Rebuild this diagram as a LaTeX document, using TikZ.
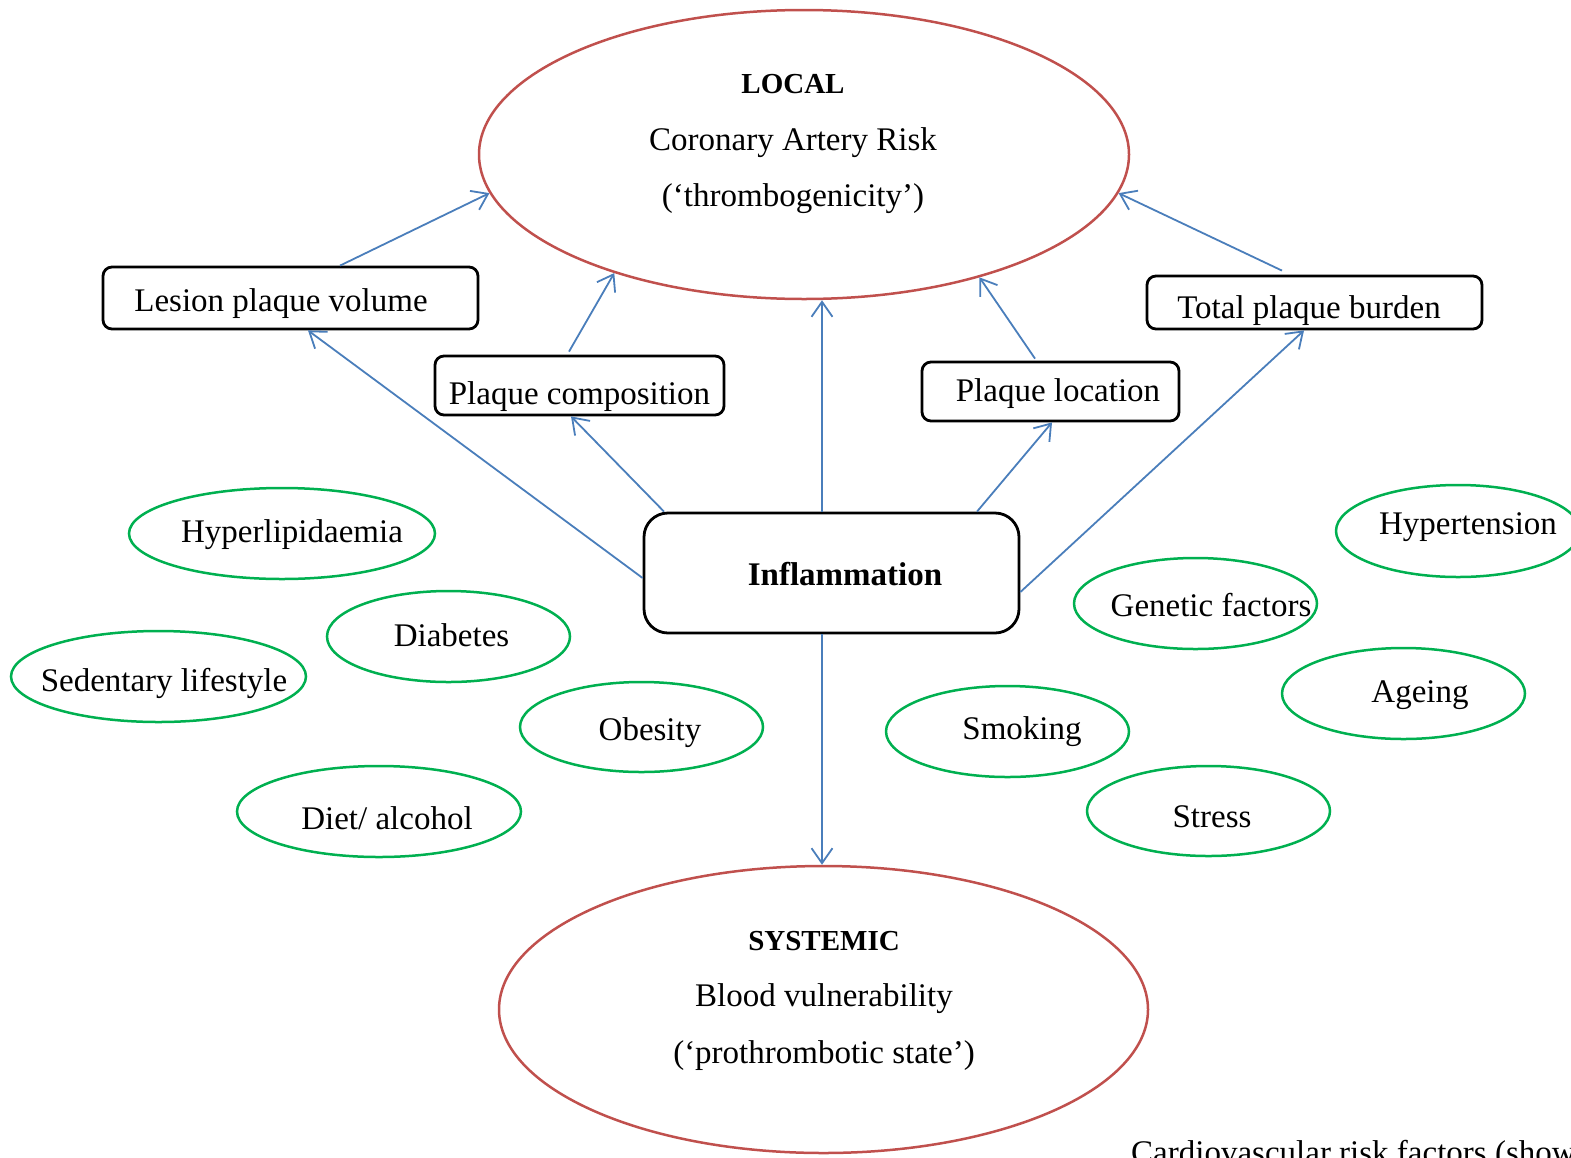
\documentclass[tikz,border=0pt]{standalone}
\usepackage{fontspec}
\setmainfont{Liberation Serif}
\usetikzlibrary{shapes.geometric,arrows.meta,calc}
\definecolor{cred}{HTML}{C0504D}
\definecolor{cblue}{HTML}{4A7EBB}
\definecolor{cgreen}{HTML}{00B050}
\begin{document}
\begin{tikzpicture}[x=1pt,y=-1pt,
  every node/.style={font=\fontsize{33}{56.5}\selectfont, inner sep=0pt},
  bigell/.style={ellipse, draw=cred, line width=2.5pt},
  riskell/.style={ellipse, draw=cgreen, line width=2.5pt, inner xsep=-45pt, text height=32pt, text depth=7pt},
  factor/.style={rectangle, draw=black, line width=2.8pt, rounded corners=9pt, text height=32pt, text depth=7pt},
  arr/.style={draw=cblue, line width=1.8pt, -{Straight Barb[length=15pt,width=21pt,line width=1.8pt]}}
]
\useasboundingbox (0,0) rectangle (1571,1157);
\clip (0,0) rectangle (1571,1157);

% big ellipses
\node[bigell, minimum width=650pt, minimum height=289pt] (local) at (804,154.5) {};
\node[align=center] (localtxt) at (793,144) {{\fontsize{29}{56.5}\selectfont\bfseries LOCAL}\\Coronary Artery Risk\\(‘thrombogenicity’)};
\node[bigell, minimum width=649pt, minimum height=287pt] (systemic) at (823.5,1009.5) {};
\node[align=center] (systxt) at (824,1000.5) {{\fontsize{29}{56.5}\selectfont\bfseries SYSTEMIC}\\Blood vulnerability\\(‘prothrombotic state’)};

% boxes
\node[factor, minimum width=375pt, minimum height=62pt, text height=34pt] (lesion) at (290.5,298) {Lesion plaque volume\hspace*{19pt}};
\node[factor, minimum width=289pt, minimum height=59pt, text height=45pt] (comp) at (579.5,385.5) {Plaque composition};
\node[factor, minimum width=257pt, minimum height=59pt, text depth=12pt] (loc) at (1050.5,391.5) {\hspace*{15pt}Plaque location};
\node[factor, minimum width=335pt, minimum height=53pt, text height=39pt] (total) at (1314.5,302.5) {Total plaque burden\hspace*{11pt}};
\node[factor, minimum width=375pt, minimum height=120pt, rounded corners=24pt] (inflam) at (831.5,573) {\hspace*{27pt}\textbf{Inflammation}};

% risk factors
\node[riskell, minimum width=306pt, minimum height=91pt, text depth=14pt] (hyperlip) at (282,533.5) {\hspace*{20pt}Hyperlipidaemia};
\node[riskell, minimum width=243pt, minimum height=91pt, text depth=12pt] (diab) at (448.5,636.5) {\hspace*{6pt}Diabetes};
\node[riskell, minimum width=295pt, minimum height=91pt, text height=37pt] (sed) at (158.5,676.5) {\hspace*{11pt}Sedentary lifestyle};
\node[riskell, minimum width=243pt, minimum height=90pt, text height=34pt] (obes) at (641.5,727) {\hspace*{17pt}Obesity};
\node[riskell, minimum width=284pt, minimum height=91pt, text height=43pt] (diet) at (379,811.5) {\hspace*{16pt}Diet/ alcohol};
\node[riskell, minimum width=243pt, minimum height=91pt, text depth=16pt] (smok) at (1007.5,731.5) {\hspace*{29pt}Smoking};
\node[riskell, minimum width=243pt, minimum height=91pt] (genet) at (1195.5,603.5) {\hspace*{31pt}Genetic factors};
\node[riskell, minimum width=244pt, minimum height=92pt, text depth=25pt] (hypert) at (1458,531) {\hspace*{20pt}Hypertension};
\node[riskell, minimum width=243pt, minimum height=91pt, text depth=14pt] (ageing) at (1403.5,693.5) {\hspace*{33pt}Ageing};
\node[riskell, minimum width=243pt, minimum height=90pt, text height=40pt] (stress) at (1208.5,811) {\hspace*{7pt}Stress};

% caption (cut off by the frame, as in the reference)
\node[anchor=base west] (caption) at (1131,1163) {Cardiovascular risk factors (shown};

% arrows
\draw[arr] ([xshift=49.5pt]lesion.north) -- (local.187);
\draw[arr] ([xshift=-10.5pt,yshift=3pt]comp.north) -- (local.212);
\draw[arr] ([xshift=-9.5pt]inflam.north) -- ([xshift=18pt]local.south);
\draw[arr] ([xshift=-15.5pt,yshift=2pt]loc.north) -- (local.325);
\draw[arr] ([xshift=-32.5pt,yshift=4pt]total.north) -- (local.353);
\draw[arr] ([yshift=-5pt]inflam.west) -- ([xshift=17.5pt]lesion.south);
\draw[arr] ([xshift=-167.5pt]inflam.north) -- ([xshift=-8.5pt]comp.south);
\draw[arr] ([xshift=145.5pt]inflam.north) -- ([xshift=1.5pt]loc.south);
\draw[arr] ([yshift=-19pt]inflam.east) -- ([xshift=-10.5pt]total.south);
\draw[arr] ([xshift=-9.5pt]inflam.south) -- ([xshift=-1.5pt]systemic.north);
\end{tikzpicture}
\end{document}
